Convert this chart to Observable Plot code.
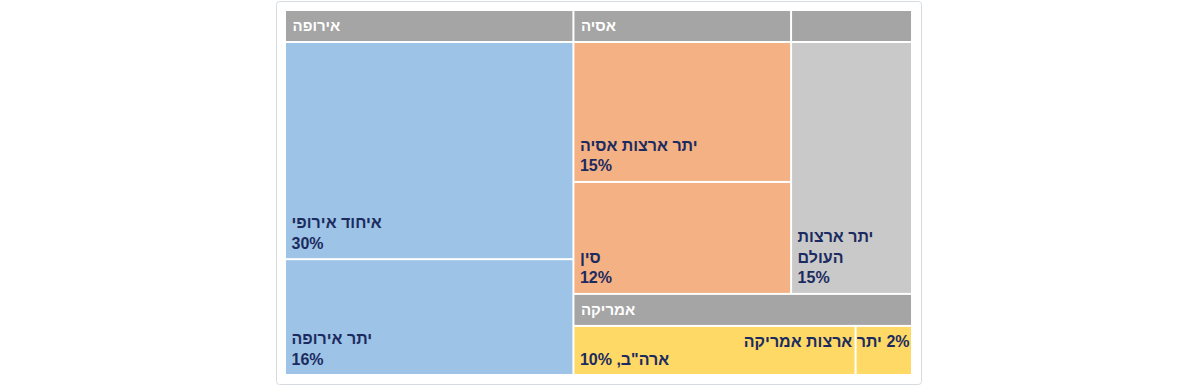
<!DOCTYPE html>
<html>
<head>
<meta charset="utf-8">
<script src="https://cdn.jsdelivr.net/npm/d3@7"></script>
<script src="https://cdn.jsdelivr.net/npm/@observablehq/plot@0.6"></script>
<style>
  body { margin: 0; background: #ffffff; }
  #chart svg { display: block; }
</style>
</head>
<body>
<div id="chart"></div>
<script>
// ---- data ----
const groupNames = ["אירופה", "אסיה", "", "אמריקה"];
const groupColors = ["#9dc3e6", "#f4b183", "#c9c9c9", "#ffd966"];
const leafNames = ["איחוד אירופי", "יתר אירופה", "יתר ארצות אסיה", "סין", "יתר ארצות העולם", "ארה\"ב", "יתר ארצות אמריקה"];
const leafGroups = [0, 0, 1, 1, 2, 3, 3];
const leafValues = [30, 16, 15, 12, 15, 10, 2];

// ---- layout (d3 treemap, Excel-like arrangement) ----
const W = 625, H = 363, headerH = 30;
const rootData = {
  name: "root",
  children: groupNames.map((g, i) => ({
    name: g, gi: i,
    children: leafNames.map((n, j) => ({name: n, value: leafValues[j], gi: leafGroups[j]})).filter(d => d.gi === i)
  }))
};

function tile(node, x0, y0, x1, y1) {
  if (node.depth === 0) {
    const [first, ...rest] = node.children;
    const xm = x0 + (x1 - x0) * first.value / node.value;
    d3.treemapDice({children: [first], value: first.value}, x0, y0, xm, y1);
    d3.treemapSquarify.ratio(2)({children: rest, value: node.value - first.value}, xm, y0, x1, y1);
  } else if (x1 - x0 < y1 - y0) {
    d3.treemapSlice(node, x0, y0, x1, y1);   // stack vertically
  } else {
    d3.treemapDice(node, x0, y0, x1, y1);    // side by side
  }
}

const root = d3.treemap()
  .tile(tile)
  .size([W, H])
  .paddingInner(2)
  .paddingTop(d => d.depth === 1 ? 32 : 0)(
    d3.hierarchy(rootData).sum(d => d.value ?? 0)
  );

const leaves = root.leaves().map(d => ({
  name: d.data.name, value: d.value, gi: d.data.gi,
  x0: d.x0, x1: d.x1, y0: d.y0, y1: d.y1
}));
const groups = root.children.map(d => ({
  name: d.data.name, x0: d.x0, x1: d.x1, y0: d.y0, y1: d.y0 + headerH, ym: d.y0 + headerH / 2
}));

const RLE = "\u202B", PDF = "\u202C";
const rtl = s => RLE + s + PDF;
const labels = leaves.map(d => {
  const w = d.x1 - d.x0, h = d.y1 - d.y0, pct = d.value + "%";
  let lines, anchor = "start";
  if (w < 100) { lines = [pct + " " + d.name]; anchor = "end"; }
  else if (h < 60) { lines = [d.name + ", " + pct]; }
  else if (w < 130) {
    const words = d.name.split(" ");
    lines = [words.slice(0, 2).join(" "), words.slice(2).join(" "), pct];
  } else { lines = [d.name, pct]; }
  return {...d, text: lines.map(rtl).join("\n"), anchor};
});

const font = "'Liberation Sans', Arial, sans-serif";
const ink = "#1c2b5f";
const chart = Plot.plot({
  width: 1200,
  height: 386,
  marginLeft: 286,
  marginRight: 289,
  marginTop: 11,
  marginBottom: 12,
  x: {domain: [0, W], axis: null},
  y: {domain: [0, H], reverse: true, axis: null},
  style: {fontFamily: font, background: "#ffffff"},
  marks: [
    Plot.frame({stroke: "#d6dbe2", inset: -10, rx: 3}),
    Plot.rect(groups, {x1: "x0", x2: "x1", y1: "y0", y2: "y1", fill: "#a5a5a5"}),
    Plot.rect(leaves, {x1: "x0", x2: "x1", y1: "y0", y2: "y1", fill: d => groupColors[d.gi]}),
    Plot.text(groups.filter(d => d.name), {x: "x0", y: "ym", text: d => rtl(d.name), textAnchor: "start", dx: 6,
      fill: "#ffffff", fontSize: 15, fontWeight: "bold", fontFamily: font}),
    Plot.text(labels.filter(d => d.anchor === "start"), {x: "x0", y: "y1", text: "text", textAnchor: "start",
      lineAnchor: "bottom", lineHeight: 1.3, dx: 5, dy: -10,
      fill: ink, fontSize: 16, fontWeight: "bold", fontFamily: font}),
    Plot.text(labels.filter(d => d.anchor === "end"), {x: "x1", y: "y0", text: "text", textAnchor: "end",
      lineAnchor: "bottom", dx: -2, dy: 20,
      fill: ink, fontSize: 16, fontWeight: "bold", fontFamily: font})
  ]
});
document.getElementById("chart").appendChild(chart);
</script>
</body>
</html>
